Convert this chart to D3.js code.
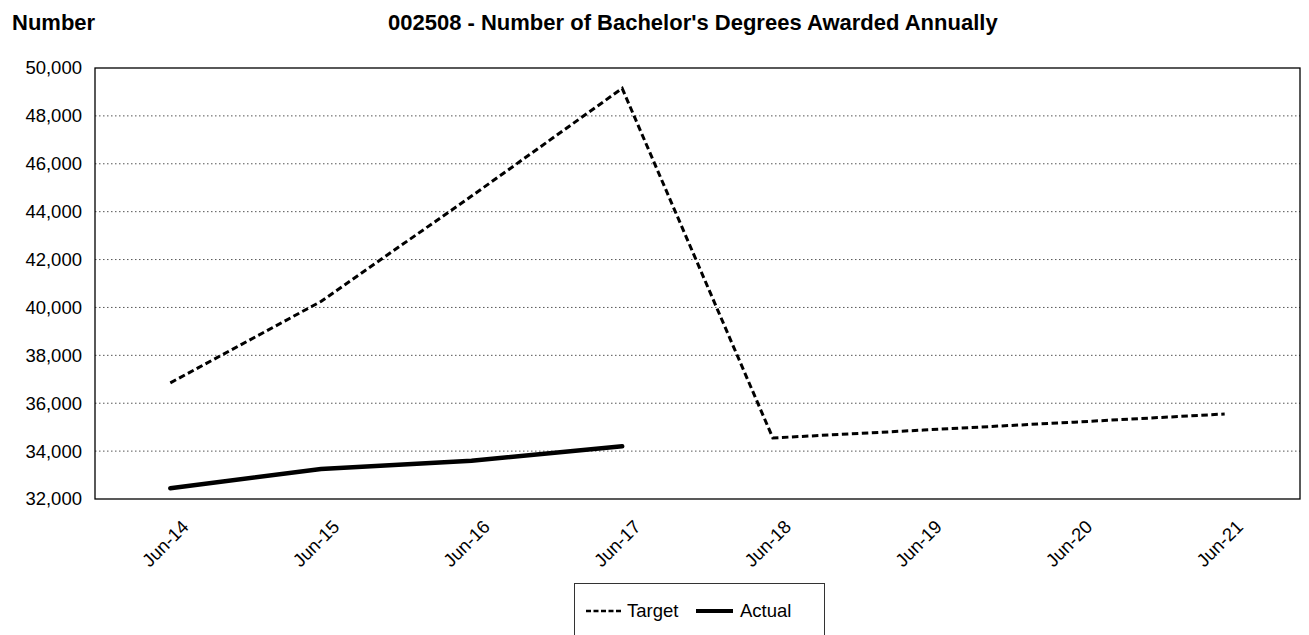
<!DOCTYPE html>
<html>
<head>
<title>Bachelor's Degrees</title>
<script src="https://cdnjs.cloudflare.com/ajax/libs/d3/7.8.5/d3.min.js"></script>
<style>
  body { margin: 0; background: white; }
  text { font-family: "Liberation Sans", Arial, sans-serif; fill: black; }
</style>
</head>
<body>
<script>
  // data
  var categories = ["Jun-14", "Jun-15", "Jun-16", "Jun-17", "Jun-18", "Jun-19", "Jun-20", "Jun-21"];
  var targetValues = [36850, 40250, 44650, 49150, 34550, 34880, 35210, 35550];
  var actualValues = [32450, 33250, 33600, 34200, null, null, null, null];
  var yTicks = [32000, 34000, 36000, 38000, 40000, 42000, 44000, 46000, 48000, 50000];

  var width = 1309, height = 635;
  var plot = {left: 95, top: 68, right: 1300, bottom: 499};

  var svg = d3.select("body").append("svg")
      .attr("width", width)
      .attr("height", height);

  var x = d3.scalePoint()
      .domain(categories)
      .range([plot.left, plot.right])
      .padding(0.5);

  var y = d3.scaleLinear()
      .domain([32000, 50000])
      .range([plot.bottom, plot.top]);

  // titles
  svg.append("text")
      .attr("x", 12).attr("y", 30)
      .style("font-size", "22px").style("font-weight", "bold")
      .text("Number");

  svg.append("text")
      .attr("x", 388).attr("y", 30)
      .style("font-size", "22px").style("font-weight", "bold")
      .text("002508 - Number of Bachelor's Degrees Awarded Annually");

  // dotted gridlines
  svg.append("g").selectAll("line")
      .data(yTicks.slice(1, -1))
      .enter().append("line")
      .attr("x1", plot.left).attr("x2", plot.right)
      .attr("y1", function(d) { return y(d); })
      .attr("y2", function(d) { return y(d); })
      .attr("stroke", "#555")
      .attr("stroke-width", 1)
      .attr("stroke-dasharray", "1.5,2.5");

  // y axis labels
  var yAxis = d3.axisLeft(y)
      .tickValues(yTicks)
      .tickSize(0)
      .tickPadding(13)
      .tickFormat(d3.format(","));

  svg.append("g")
      .attr("transform", "translate(" + plot.left + ",0)")
      .call(yAxis)
      .call(function(g) { g.select(".domain").remove(); })
      .selectAll("text")
      .style("font-size", "18.5px");

  // x axis labels
  var xAxis = d3.axisBottom(x).tickSize(0).tickPadding(0);

  svg.append("g")
      .attr("transform", "translate(0," + plot.bottom + ")")
      .call(xAxis)
      .call(function(g) { g.select(".domain").remove(); })
      .selectAll("text")
      .style("font-size", "18.5px")
      .attr("text-anchor", "end")
      .attr("dy", null)
      .attr("y", 0)
      .attr("transform", "translate(19,29) rotate(-45)");

  // plot border
  svg.append("rect")
      .attr("x", plot.left).attr("y", plot.top)
      .attr("width", plot.right - plot.left)
      .attr("height", plot.bottom - plot.top)
      .attr("fill", "none")
      .attr("stroke", "black")
      .attr("stroke-width", 1.3);

  // lines
  var line = d3.line()
      .defined(function(d) { return d.v != null; })
      .x(function(d) { return x(d.c); })
      .y(function(d) { return y(d.v); });

  var targetData = categories.map(function(c, i) { return {c: c, v: targetValues[i]}; });
  var actualData = categories.map(function(c, i) { return {c: c, v: actualValues[i]}; });

  svg.append("path")
      .datum(targetData)
      .attr("d", line)
      .attr("fill", "none")
      .attr("stroke", "black")
      .attr("stroke-width", 3)
      .attr("stroke-dasharray", "6.5,3.5");

  svg.append("path")
      .datum(actualData)
      .attr("d", line)
      .attr("fill", "none")
      .attr("stroke", "black")
      .attr("stroke-width", 4.5)
      .attr("stroke-linecap", "round");

  // legend
  var legend = svg.append("g");
  legend.append("rect")
      .attr("x", 574.5).attr("y", 583.5)
      .attr("width", 250).attr("height", 70)
      .attr("fill", "white")
      .attr("stroke", "#333")
      .attr("stroke-width", 1);

  legend.append("line")
      .attr("x1", 586).attr("x2", 622)
      .attr("y1", 611).attr("y2", 611)
      .attr("stroke", "black").attr("stroke-width", 2.5)
      .attr("stroke-dasharray", "5,2.5");
  legend.append("text")
      .attr("x", 627).attr("y", 617)
      .style("font-size", "18.5px")
      .text("Target");

  legend.append("line")
      .attr("x1", 696).attr("x2", 733)
      .attr("y1", 611).attr("y2", 611)
      .attr("stroke", "black").attr("stroke-width", 4);
  legend.append("text")
      .attr("x", 740).attr("y", 617)
      .style("font-size", "18.5px")
      .text("Actual");
</script>
</body>
</html>
